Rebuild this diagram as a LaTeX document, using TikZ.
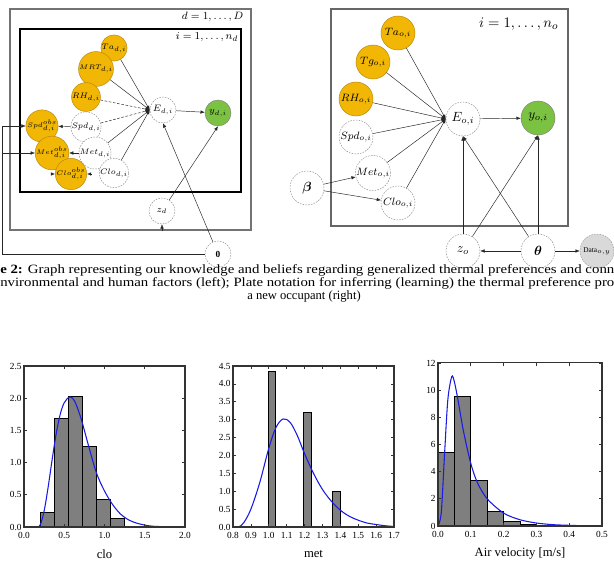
\documentclass[tikz,border=0pt]{standalone}
\usepackage{amsmath}
\usepackage{fontspec}
\setmainfont{Liberation Serif}
\usetikzlibrary{arrows.meta}
\definecolor{obsor}{HTML}{F2B705}
\definecolor{obsbd}{HTML}{B8860B}
\definecolor{grn}{HTML}{7CC242}
\definecolor{dgray}{HTML}{D9D9D9}
\definecolor{barg}{HTML}{7F7F7F}
\definecolor{crv}{HTML}{1A1AE6}
\tikzset{
 nd/.style={circle, inner sep=0pt, line width=0.35pt},
 obsn/.style={nd, fill=obsor, draw=obsbd},
 latn/.style={nd, fill=white, draw=black!45, dash pattern=on 1.2pt off 0.9pt},
 grnn/.style={nd, fill=grn, draw=black!50},
 grayn/.style={nd, fill=dgray, draw=black!40, dash pattern=on 1.2pt off 0.9pt},
 ls/.style={minimum size=19.5pt, font=\fontsize{6}{7}\selectfont},
 lso/.style={minimum size=19.5pt, font=\fontsize{5}{6}\selectfont},
 lsb/.style={minimum size=19.5pt, font=\fontsize{7}{8}\selectfont},
 rs/.style={minimum size=25.5pt, font=\fontsize{8}{9}\selectfont},
 rsb/.style={minimum size=25.5pt, font=\fontsize{10}{11}\selectfont},
 arr/.style={-{Latex[length=3.2pt,width=2.6pt]}, line width=0.35pt, draw=black!85},
 dsh/.style={dash pattern=on 2pt off 1.2pt},
 tickl/.style={font=\fontsize{7}{8}\selectfont, inner sep=0.6pt},
 axlab/.style={font=\fontsize{9.5}{10}\selectfont},
 histbar/.style={fill=barg, draw=black, line width=0.7pt},
 pdfcurve/.style={draw=crv, line width=0.8pt},
 axframe/.style={draw=black!80, line width=0.8pt},
 tickmark/.style={draw=black!80, line width=0.5pt},
 capt/.style={anchor=west, inner sep=0pt, font=\fontsize{9.5}{11}\selectfont},
}
\begin{document}
\begin{tikzpicture}[x=0.75pt,y=-0.75pt]
\useasboundingbox (0,0) rectangle (614,564);
\fill[white] (0,0) rectangle (614,564);

% ---------------- left diagram ----------------
\draw[draw=black!55, line width=0.8pt] (10,9) rectangle (251,230);
\draw[draw=black, line width=1.3pt] (20,29) rectangle (241,192);
\node[font=\fontsize{8.5}{9}\selectfont, anchor=east] (lblD) at (248,17) {$d = 1, \dots, D$};
\node[font=\fontsize{8.5}{9}\selectfont, anchor=east] (lblI) at (243,37) {$i = 1, \dots, n_d$};

\node[obsn, ls] (ta) at (114,48) {$Ta_{d,i}$};
\node[obsn, lso] (mrt) at (96,69) {$MRT_{d,i}$};
\node[obsn, ls] (rh) at (86,97) {$RH_{d,i}$};
\node[obsn, lso] (spdobs) at (42,126) {$Spd^{obs}_{d,i}$};
\node[latn, ls] (spd) at (86,127) {$Spd_{d,i}$};
\node[obsn, lso] (metobs) at (52,153) {$Met^{obs}_{d,i}$};
\node[latn, ls] (met) at (95,153) {$Met_{d,i}$};
\node[obsn, lso] (cloobs) at (71,174) {$Clo^{obs}_{d,i}$};
\node[latn, ls] (clo) at (114,173) {$Clo_{d,i}$};
\node[latn, lsb] (E) at (163,110) {$E_{d,i}$};
\node[grnn, lsb] (y) at (218,113) {$y_{d,i}$};
\node[latn, lsb] (zd) at (162,211) {$z_d$};
\node[latn, lsb] (zero) at (218,254) {$\mathbf{0}$};

\draw[arr] (ta) -- (E.west);
\draw[arr] (mrt) -- (E.west);
\draw[arr, dsh] (rh) -- (E.west);
\draw[arr, dsh] (spd) -- (E.west);
\draw[arr] (met) -- (E.west);
\draw[arr] (clo) -- (E.west);
\draw[arr] (E) -- (y);
\draw[arr] (spd) -- (spdobs);
\draw[arr] (met) -- (metobs);
\draw[arr] (zero) -- (E.south);
\draw[arr] (zd) -- (y.south);
\coordinate (loopA) at (2,254);
\coordinate (loopB) at (2,153);
\draw[arr] (zero) -- (loopA) |- (spdobs.west);
\draw[arr] (loopB) -- (metobs.west);
\coordinate (cloL) at (52,174);
\coordinate (cloR) at (91,174);
\coordinate (zdB) at (162,231);
\draw[arr] (cloL) -- (cloobs.west);
\draw[arr] (cloR) -- (cloobs.east);
\draw[arr] (zdB) -- (zd.south);

% ---------------- right diagram ----------------
\draw[draw=black!60, line width=1.1pt] (331,9) rectangle (568,226);
\node[font=\fontsize{11}{12}\selectfont, anchor=east] (lblI2) at (563,24) {$i = 1, \dots, n_o$};

\node[obsn, rs] (ta2) at (398,33) {$Ta_{o,i}$};
\node[obsn, rs] (tg2) at (373,62) {$Tg_{o,i}$};
\node[obsn, rs] (rh2) at (356,99) {$RH_{o,i}$};
\node[latn, rs] (spd2) at (356,137) {$Spd_{o,i}$};
\node[latn, rs] (met2) at (373,173) {$Met_{o,i}$};
\node[latn, rs] (clo2) at (398,203) {$Clo_{o,i}$};
\node[latn, rsb] (beta) at (307,188) {$\boldsymbol{\beta}$};
\node[latn, rsb] (E2) at (463,119) {$E_{o,i}$};
\node[grnn, rsb] (y2) at (538,118) {$y_{o,i}$};
\node[latn, rsb] (zo) at (463,251) {$z_o$};
\node[latn, rsb] (theta) at (538,251) {$\boldsymbol{\theta}$};
\node[grayn, rs, font=\fontsize{5.5}{6}\selectfont] (data) at (597,251) {$\mathrm{Data}_{o,y}$};

\draw[arr] (ta2) -- (E2.west);
\draw[arr] (tg2) -- (E2.west);
\draw[arr] (rh2) -- (E2.west);
\draw[arr] (spd2) -- (E2.west);
\draw[arr] (met2) -- (E2.west);
\draw[arr] (clo2) -- (E2.west);
\draw[arr] (E2) -- (y2);
\draw[arr] (beta) -- (met2);
\draw[arr] (beta) -- (clo2);
\draw[arr] (zo) -- (E2.south);
\draw[arr] (zo) -- (y2.south);
\draw[arr] (theta) -- (E2.south);
\draw[arr] (theta) -- (y2.south);
\draw[arr] (theta) -- (zo);
\draw[arr] (theta) -- (data);

% ---------------- caption ----------------
\node[capt] (cap1) at (0,270) {\resizebox{460.5pt}{\height}{\textbf{e 2:} Graph representing our knowledge and beliefs regarding generalized thermal preferences and conn}};
\node[capt] (cap2) at (0,283) {\resizebox{460.5pt}{\height}{nvironmental and human factors (left); Plate notation for inferring (learning) the thermal preference pro}};
\node[capt, anchor=center] (cap3) at (304,296) {\resizebox{85pt}{\height}{a new occupant (right)}};

% ---------------- histogram 1: clo ----------------
\begin{scope}[shift={(24,527)}]
\begin{scope}[x=60.375pt, y=48.3pt]
 \foreach \a/\b/\h in {0.207/0.381/0.22, 0.381/0.555/1.69, 0.555/0.729/2.03, 0.729/0.903/1.25, 0.903/1.077/0.42, 1.077/1.251/0.14}
   \draw[histbar] (\a,0) rectangle (\b,\h);
 \draw[pdfcurve] plot[smooth, tension=0.55] coordinates {(0,0) (0.15,0) (0.2,0.03) (0.25,0.25) (0.3,0.62) (0.35,1.05) (0.4,1.45) (0.45,1.75) (0.5,1.93) (0.57,2.02) (0.63,1.95) (0.7,1.72) (0.75,1.5) (0.8,1.27) (0.9,0.84) (1.0,0.56) (1.1,0.35) (1.2,0.2) (1.3,0.11) (1.4,0.06) (1.5,0.03) (1.6,0.012) (1.8,0.003) (2.0,0)};
 \draw[axframe] (0,0) rectangle (2,2.5);
 \foreach \v/\t [count=\k] in {0/0.0,0.5/0.5,1/1.0,1.5/1.5,2/2.0} {
   \draw[tickmark] (\v,0) -- ++(0pt,2.5pt) (\v,2.5) -- ++(0pt,-2.5pt);
   \node[tickl, below=3pt] (aX\k) at (\v,0) {\t};
 }
 \foreach \v/\t [count=\k] in {0/0.0,0.5/0.5,1/1.0,1.5/1.5,2/2.0,2.5/2.5} {
   \draw[tickmark] (0,\v) -- ++(2.5pt,0pt) (2,\v) -- ++(-2.5pt,0pt);
   \node[tickl, left=1pt] (aY\k) at (0,\v) {\t};
 }
 \node[axlab] (aL) at (1,-0.42) {clo};
\end{scope}
\end{scope}

% ---------------- histogram 2: met ----------------
\begin{scope}[shift={(233,527)}]
\begin{scope}[x=134.17pt, y=26.83pt, shift={(-0.8,0)}]
 \foreach \a/\b/\h in {0.996/1.039/4.35, 1.196/1.239/3.2, 1.356/1.399/1.0}
   \draw[histbar] (\a,0) rectangle (\b,\h);
 \draw[pdfcurve] plot[smooth, tension=0.55] coordinates {(0.8,0) (0.83,0) (0.86,0.12) (0.9,0.5) (0.95,1.25) (1.0,2.2) (1.04,2.78) (1.08,3.02) (1.12,2.92) (1.16,2.55) (1.2,2.05) (1.25,1.5) (1.3,1.05) (1.35,0.72) (1.4,0.47) (1.45,0.3) (1.5,0.19) (1.55,0.11) (1.6,0.07) (1.65,0.035) (1.7,0.015)};
 \draw[axframe] (0.8,0) rectangle (1.7,4.5);
 \foreach \v/\t [count=\k] in {0.8/0.8,0.9/0.9,1.0/1.0,1.1/1.1,1.2/1.2,1.3/1.3,1.4/1.4,1.5/1.5,1.6/1.6,1.7/1.7} {
   \draw[tickmark] (\v,0) -- ++(0pt,2.5pt) (\v,4.5) -- ++(0pt,-2.5pt);
   \node[tickl, below=3pt] (bX\k) at (\v,0) {\t};
 }
 \foreach \v/\t [count=\k] in {0/0.0,0.5/0.5,1/1.0,1.5/1.5,2/2.0,2.5/2.5,3/3.0,3.5/3.5,4/4.0,4.5/4.5} {
   \draw[tickmark] (0.8,\v) -- ++(2.5pt,0pt) (1.7,\v) -- ++(-2.5pt,0pt);
   \node[tickl, left=1pt] (bY\k) at (0.8,\v) {\t};
 }
 \node[axlab] (bL) at (1.25,-0.76) {met};
\end{scope}
\end{scope}

% ---------------- histogram 3: air velocity ----------------
\begin{scope}[shift={(438,526)}]
\begin{scope}[x=246pt, y=10.19pt]
 \foreach \a/\b/\h in {0/0.05/5.4, 0.05/0.1/9.55, 0.1/0.15/3.37, 0.15/0.2/1.05, 0.2/0.25/0.3, 0.25/0.3/0.13}
   \draw[histbar] (\a,0) rectangle (\b,\h);
 \draw[pdfcurve] plot[smooth, tension=0.5] coordinates {(0,0) (0.01,1.0) (0.02,5.3) (0.03,9.3) (0.042,11) (0.05,10.6) (0.06,9.4) (0.07,8.0) (0.08,6.7) (0.1,4.6) (0.12,3.2) (0.15,2.0) (0.2,0.95) (0.25,0.46) (0.3,0.22) (0.35,0.1) (0.4,0.05) (0.45,0.02) (0.5,0.01)};
 \draw[axframe] (0,0) rectangle (0.5,12);
 \foreach \v/\t [count=\k] in {0/0.0,0.1/0.1,0.2/0.2,0.3/0.3,0.4/0.4,0.5/0.5} {
   \draw[tickmark] (\v,0) -- ++(0pt,2.5pt) (\v,12) -- ++(0pt,-2.5pt);
   \node[tickl, below=3pt] (cX\k) at (\v,0) {\t};
 }
 \foreach \v [count=\k] in {0,2,4,6,8,10,12} {
   \draw[tickmark] (0,\v) -- ++(2.5pt,0pt) (0.5,\v) -- ++(-2.5pt,0pt);
   \node[tickl, left=1pt] (cY\k) at (0,\v) {\v};
 }
 \node[axlab] (cL) at (0.25,-2.05) {Air velocity [m/s]};
\end{scope}
\end{scope}
\end{tikzpicture}
\end{document}
